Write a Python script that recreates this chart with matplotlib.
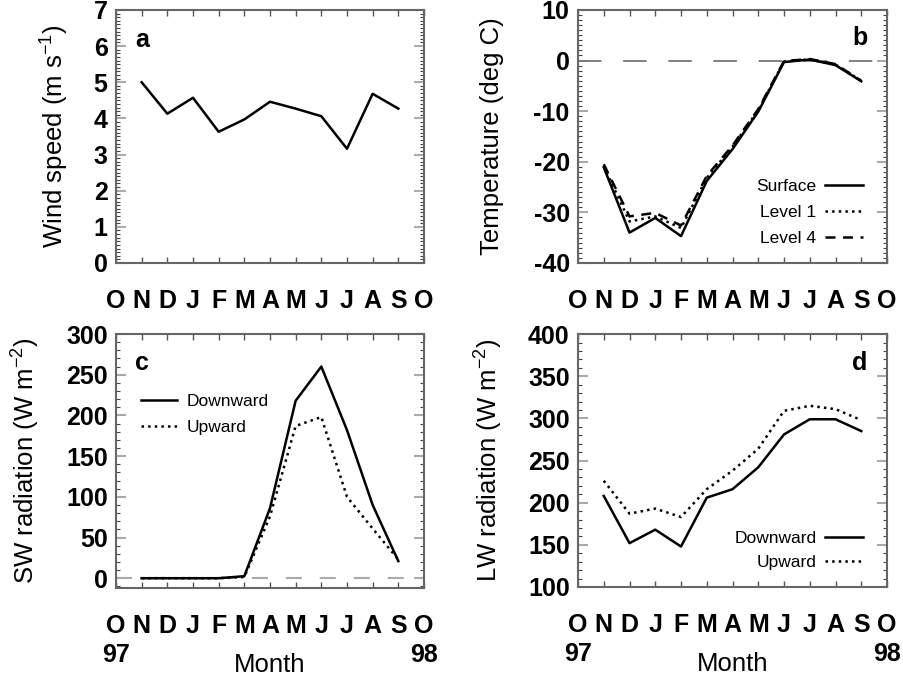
import matplotlib
matplotlib.use("Agg")
import matplotlib.pyplot as plt
from matplotlib.ticker import MultipleLocator

plt.rcParams["font.family"] = ["Liberation Sans", "DejaVu Sans"]
plt.rcParams["mathtext.default"] = "regular"

# month axis: labels at 0..12 (Oct 97 .. Oct 98), monthly values at 1..11
MONTHS = list("ONDJFMAMJJASO")
MONTH_POS = list(range(13))
DATA_POS = list(range(1, 12))

wind = [5.0, 4.13, 4.57, 3.63, 3.97, 4.46, 4.27, 4.06, 3.16, 4.68, 4.27]

temp_sfc = [-21.1, -34.0, -31.1, -34.7, -23.8, -17.5, -10.1, -0.3, 0.2, -0.9, -4.1]
temp_l1 = [-20.9, -31.8, -30.8, -33.1, -23.2, -17.0, -9.8, -0.2, 0.2, -0.8, -4.0]
temp_l4 = [-20.5, -30.8, -30.1, -32.6, -22.8, -16.8, -9.6, -0.1, 0.3, -0.7, -4.0]

sw_down = [0, 0, 0, 0, 2.5, 86, 218, 260, 182, 90, 21]
sw_up = [0, 0, 0, 0, 1.5, 76, 187, 198, 100, 61, 23]

lw_down = [208, 152, 168, 148, 206, 216, 242, 281, 299, 299, 285]
lw_up = [226, 187, 193, 183, 216, 238, 264, 309, 315, 311, 298]

LW = 1.8
DOT = ":"
DASH = (0, (4, 3))

fig = plt.figure(figsize=(9.04, 6.76), dpi=100)
ax_a = fig.add_axes([0.1283, 0.611, 0.3407, 0.3743])
ax_b = fig.add_axes([0.6394, 0.611, 0.3418, 0.3743])
ax_c = fig.add_axes([0.1283, 0.1302, 0.3407, 0.3757])
ax_d = fig.add_axes([0.6394, 0.1317, 0.3418, 0.3740])


def style(ax, yticks, ylim, yminor, bottom_row=False):
    ax.set_xlim(0, 12)
    ax.set_ylim(*ylim)
    ax.set_xticks(MONTH_POS)
    labels = list(MONTHS)
    if bottom_row:
        labels[0] = "O\n97"
        labels[-1] = "O\n98"
    ax.set_xticklabels(labels, fontsize=18, fontweight="bold", linespacing=1.25)
    ax.set_yticks(yticks)
    ax.set_yticklabels([str(v) for v in yticks], fontsize=18, fontweight="bold")
    ax.yaxis.set_minor_locator(MultipleLocator(yminor))
    ax.tick_params(which="both", direction="in", top=True, right=True)
    ax.tick_params(axis="x", which="major", length=4, width=1, color="#555555", pad=19)
    ax.tick_params(axis="y", which="major", length=7, width=1.5, color="#aaaaaa", pad=6)
    ax.tick_params(axis="y", which="minor", length=3, width=0.8, color="#444444")
    for sp in ax.spines.values():
        sp.set_color("#666666")
        sp.set_linewidth(1.5)


# a: wind speed
ax_a.plot(DATA_POS, wind, color="black", lw=LW)
style(ax_a, list(range(0, 8)), (0, 7), 0.1)
ax_a.set_ylabel("Wind speed (m s$^{-1}$)", fontsize=18.5, va="center")
ax_a.yaxis.set_label_coords(-0.198, 0.5)
ax_a.text(0.085, 0.88, "a", transform=ax_a.transAxes, fontsize=18,
          fontweight="bold", ha="center", va="center")

# b: temperature
ax_b.axhline(0, color="#777777", lw=1.3, linestyle=(0, (13, 12)))
ax_b.plot(DATA_POS, temp_sfc, color="black", lw=LW, label="Surface")
ax_b.plot(DATA_POS, temp_l1, color="black", lw=LW, linestyle=DOT, label="Level 1")
ax_b.plot(DATA_POS, temp_l4, color="black", lw=LW, linestyle=DASH, label="Level 4")
style(ax_b, list(range(10, -50, -10)), (-40, 10), 1)
ax_b.set_ylabel("Temperature (deg C)", fontsize=18.5, va="center")
ax_b.yaxis.set_label_coords(-0.278, 0.5)
ax_b.text(0.913, 0.89, "b", transform=ax_b.transAxes, fontsize=18,
          fontweight="bold", ha="center", va="center")
ax_b.legend(loc="lower right", bbox_to_anchor=(0.951, 0.032), frameon=False,
            markerfirst=False, alignment="right", fontsize=12.5, borderpad=0,
            handlelength=2.2, handletextpad=0.5, labelspacing=0.62)

# c: shortwave
ax_c.axhline(0, color="#aaaaaa", lw=1.5, linestyle=(0, (7.7, 8.6)))
ax_c.plot(DATA_POS, sw_down, color="black", lw=LW, label="Downward")
ax_c.plot(DATA_POS, sw_up, color="black", lw=LW, linestyle=DOT, label="Upward")
style(ax_c, list(range(0, 350, 50)), (-12, 300), 10, bottom_row=True)
ax_c.set_ylabel("SW radiation (W m$^{-2}$)", fontsize=18.5, va="center")
ax_c.yaxis.set_label_coords(-0.292, 0.5)
ax_c.set_xlabel("Month", fontsize=18.5)
ax_c.xaxis.set_label_coords(0.5, -0.256)
ax_c.text(0.085, 0.886, "c", transform=ax_c.transAxes, fontsize=18,
          fontweight="bold", ha="center", va="center")
ax_c.legend(loc="upper left", bbox_to_anchor=(0.052, 0.797), frameon=False,
            fontsize=12.5, borderpad=0, handlelength=2.1, handletextpad=0.57,
            labelspacing=0.58)

# d: longwave
ax_d.plot(DATA_POS, lw_down, color="black", lw=LW, label="Downward")
ax_d.plot(DATA_POS, lw_up, color="black", lw=LW, linestyle=DOT, label="Upward")
style(ax_d, list(range(100, 450, 50)), (100, 400), 10, bottom_row=True)
ax_d.set_ylabel("LW radiation (W m$^{-2}$)", fontsize=18.5, va="center")
ax_d.yaxis.set_label_coords(-0.288, 0.5)
ax_d.set_xlabel("Month", fontsize=18.5)
ax_d.xaxis.set_label_coords(0.5, -0.256)
ax_d.text(0.913, 0.885, "d", transform=ax_d.transAxes, fontsize=18,
          fontweight="bold", ha="center", va="center")
ax_d.legend(loc="lower right", bbox_to_anchor=(0.951, 0.033), frameon=False,
            markerfirst=False, alignment="right", fontsize=12.5, borderpad=0,
            handlelength=2.2, handletextpad=0.5, labelspacing=0.5)

fig.savefig("out.png", dpi=100)
